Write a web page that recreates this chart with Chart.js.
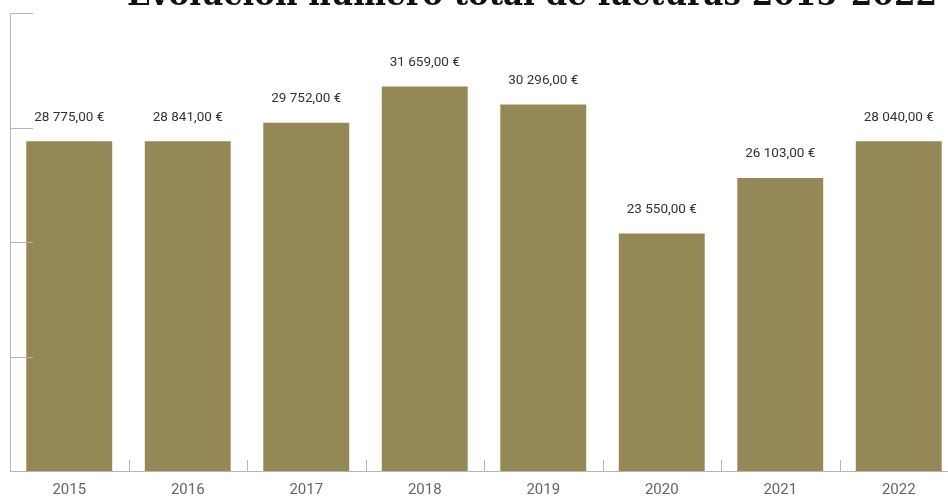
<!DOCTYPE html>
<html>
<head>
<meta charset="utf-8">
<script src="https://cdn.jsdelivr.net/npm/chart.js@4.4.1/dist/chart.umd.min.js"></script>
<style>
  html, body { margin: 0; padding: 0; background: #fff; overflow: hidden; }
  #wrap { position: absolute; left: 0; top: 0; width: 960px; height: 509px; }
</style>
</head>
<body>
<div id="wrap"><canvas id="chart" width="960" height="509"></canvas></div>
<script>
const TITLE = 'Evolución número total de facturas 2015-2022';
const years = ['2015', '2016', '2017', '2018', '2019', '2020', '2021', '2022'];
// bar heights as drawn in the picture
const barValues = [28800, 28800, 30410, 33590, 32010, 20750, 25600, 28800];
// amounts printed above the bars
const labelValues = [28775, 28841, 29752, 31659, 30296, 23550, 26103, 28040];
const yTicks = [10000, 20000, 30000, 40000];

const BAR = '#948956';
const AXIS = '#b5b5b5';

// "28 775,00 €"
function fmtEuro(v) {
  const s = Math.round(v).toString().replace(/\B(?=(\d{3})+(?!\d))/g, ' ');
  return s + ',00 €';
}

// labels above bars, short tick marks, title strip
const decorPlugin = {
  id: 'decor',
  afterDatasetsDraw(chart) {
    const ctx = chart.ctx;
    const meta = chart.getDatasetMeta(0);
    ctx.save();
    ctx.font = '13.5px Roboto';
    ctx.fillStyle = '#333';
    ctx.textAlign = 'center';
    ctx.textBaseline = 'middle';
    meta.data.forEach((bar, i) => {
      ctx.fillText(fmtEuro(labelValues[i]), bar.x, bar.y - 24);
    });
    ctx.restore();
  },
  afterDraw(chart) {
    const ctx = chart.ctx;
    const area = chart.chartArea;
    const x = chart.scales.x;
    const y = chart.scales.y;
    ctx.save();
    ctx.strokeStyle = AXIS;
    ctx.lineWidth = 1;
    // y axis line and inward ticks
    ctx.beginPath();
    ctx.moveTo(area.left + 0.5, y.getPixelForValue(40000));
    ctx.lineTo(area.left + 0.5, area.bottom);
    yTicks.forEach(v => {
      const py = Math.round(y.getPixelForValue(v)) + 0.5;
      ctx.moveTo(area.left, py);
      ctx.lineTo(area.left + 23, py);
    });
    // x ticks between categories, pointing up
    for (let i = 1; i < years.length; i++) {
      const px = Math.round((x.getPixelForTick(i) + x.getPixelForTick(i - 1)) / 2) + 0.5;
      ctx.moveTo(px, area.bottom);
      ctx.lineTo(px, area.bottom - 11);
    }
    ctx.stroke();
    // title, clipped at the top of the picture
    ctx.font = 'bold 31px "DejaVu Serif"';
    ctx.fillStyle = '#111';
    ctx.textAlign = 'center';
    ctx.textBaseline = 'alphabetic';
    ctx.fillText(TITLE, 532, 5);
    ctx.restore();
  }
};

new Chart(document.getElementById('chart'), {
  type: 'bar',
  data: {
    labels: years,
    datasets: [{
      data: barValues,
      backgroundColor: BAR,
      borderWidth: 0,
      categoryPercentage: 1,
      barPercentage: 0.725,
    }]
  },
  options: {
    responsive: false,
    animation: false,
    layout: { padding: { left: 10, right: 2, top: 13, bottom: 0 } },
    plugins: { legend: { display: false }, tooltip: { enabled: false }, title: { display: false } },
    scales: {
      x: {
        grid: { display: false, drawTicks: false },
        border: { display: true, color: AXIS },
        ticks: { color: '#666', font: { family: 'Roboto', size: 15 }, padding: 10 }
      },
      y: { display: false, min: 0, max: 40000 }
    }
  },
  plugins: [decorPlugin]
});
</script>
</body>
</html>
